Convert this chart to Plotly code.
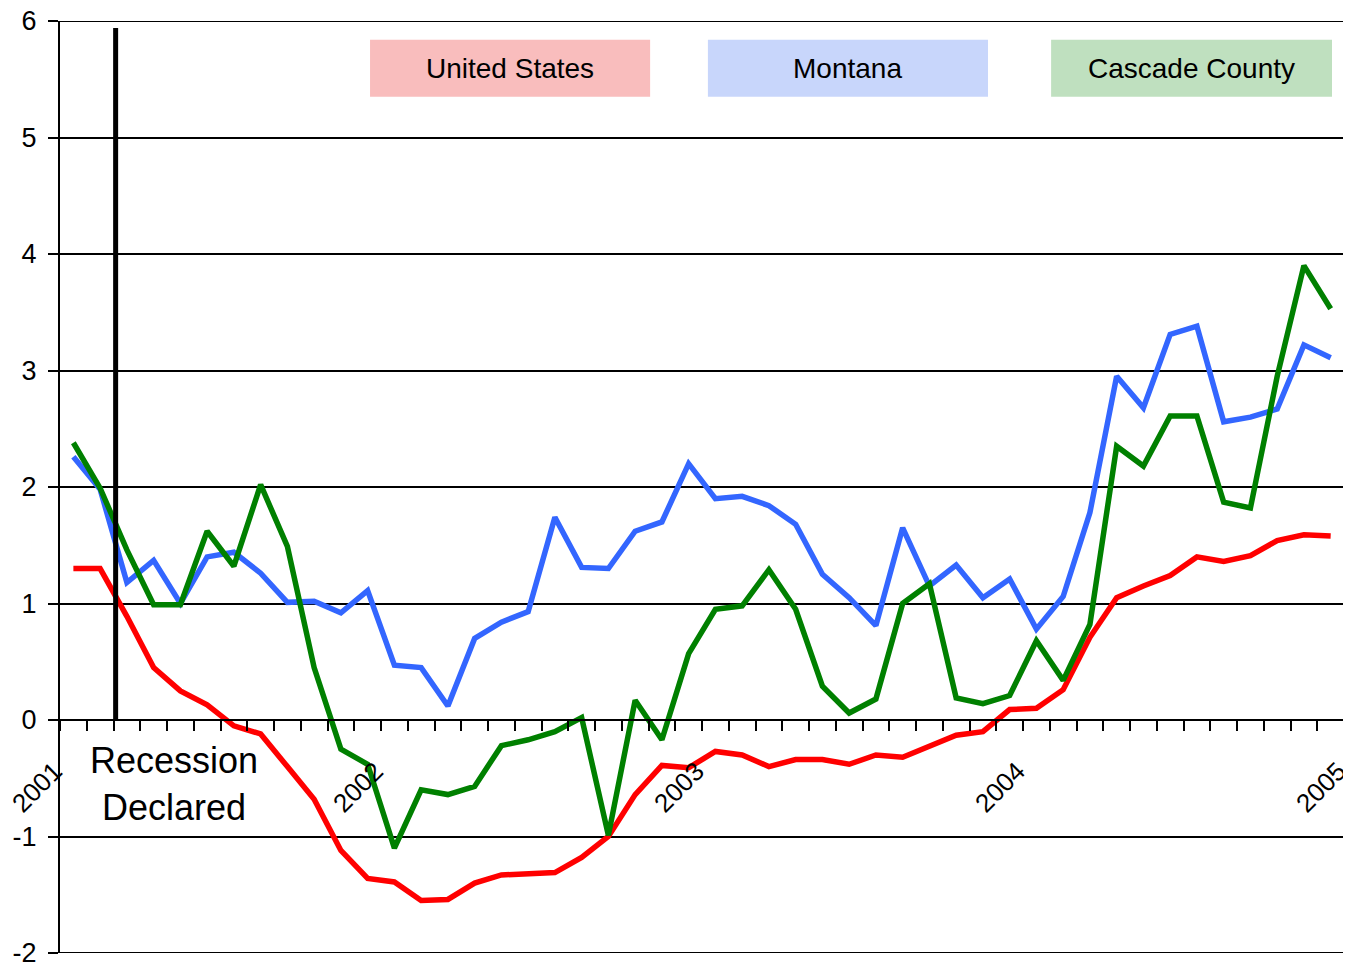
import plotly.graph_objects as go

# Monthly series, Jan 2001 .. Dec 2004 (48 months)
us = [1.30, 1.30, 0.89, 0.45, 0.25, 0.13, -0.05, -0.12, -0.40, -0.68,
      -1.12, -1.36, -1.39, -1.55, -1.54, -1.40, -1.33, -1.32, -1.31, -1.18,
      -1.00, -0.64, -0.39, -0.41, -0.27, -0.30, -0.40, -0.34, -0.34, -0.38,
      -0.30, -0.32, -0.22, -0.13, -0.10, 0.09, 0.10, 0.26, 0.71, 1.05,
      1.15, 1.24, 1.40, 1.36, 1.41, 1.54, 1.59, 1.58]
montana = [2.26, 1.98, 1.18, 1.37, 1.00, 1.40, 1.44, 1.26, 1.01, 1.02,
           0.92, 1.11, 0.47, 0.45, 0.12, 0.70, 0.84, 0.93, 1.74, 1.31,
           1.30, 1.62, 1.70, 2.20, 1.90, 1.92, 1.84, 1.68, 1.25, 1.05,
           0.81, 1.65, 1.15, 1.33, 1.05, 1.21, 0.78, 1.06, 1.78, 2.95,
           2.68, 3.31, 3.38, 2.56, 2.60, 2.67, 3.22, 3.11]
cascade = [2.38, 1.99, 1.46, 0.99, 0.99, 1.62, 1.32, 2.02, 1.49, 0.45,
           -0.25, -0.38, -1.10, -0.60, -0.64, -0.57, -0.22, -0.17, -0.10, 0.02,
           -0.99, 0.17, -0.17, 0.57, 0.95, 0.98, 1.29, 0.95, 0.29, 0.06,
           0.18, 1.00, 1.17, 0.19, 0.14, 0.21, 0.68, 0.34, 0.82, 2.35,
           2.18, 2.61, 2.61, 1.87, 1.82, 2.95, 3.90, 3.53]

series_names = ["United States", "Montana", "Cascade County"]
year_labels = ["2001", "2002", "2003", "2004", "2005"]
year_positions = [0, 12, 24, 36, 48]
y_ticks = [-2, -1, 0, 1, 2, 3, 4, 5, 6]
y_tick_labels = ["-2", "-1", "0", "1", "2", "3", "4", "5", "6"]
recession_month = 2.08
recession_label = "Recession<br>Declared"

FONT = "Liberation Sans, Arial, sans-serif"
colors = ["#FF0000", "#3366FF", "#008000"]
box_fills = ["#F9BDBD", "#C8D6FB", "#BFE0BF"]

months = [i + 0.5 for i in range(len(us))]

fig = go.Figure()
for name, vals, col in zip(series_names, [us, montana, cascade], colors):
    fig.add_trace(go.Scatter(x=months, y=vals, mode="lines", name=name,
                             line=dict(color=col, width=5.5), showlegend=False))

# Border gridlines at the top and bottom of the value range
for yv in (y_ticks[0], y_ticks[-1]):
    fig.add_shape(type="line", xref="paper", x0=0, x1=1, yref="y", y0=yv, y1=yv,
                  line=dict(color="black", width=2), layer="below")

# Recession marker
fig.add_shape(type="line", x0=recession_month, x1=recession_month, y0=0, y1=5.94,
              xref="x", yref="y", line=dict(color="black", width=5))
fig.add_annotation(x=4.27, y=-0.55, xref="x", yref="y", text=recession_label,
                   showarrow=False, font=dict(family=FONT, size=36, color="black"),
                   align="center")

# Legend-like boxes
box_x = [(11.59, 22.06), (24.22, 34.69), (37.05, 47.55)]
for (x0, x1), fill, name in zip(box_x, box_fills, series_names):
    fig.add_shape(type="rect", x0=x0, x1=x1, y0=5.35, y1=5.84, xref="x", yref="y",
                  fillcolor=fill, line=dict(width=0), layer="below")
    fig.add_annotation(x=(x0 + x1) / 2, y=5.595, xref="x", yref="y", text=name,
                       showarrow=False, font=dict(family=FONT, size=28, color="black"))

# Year labels
for pos, lab in zip(year_positions, year_labels):
    fig.add_annotation(x=pos, y=0, xref="x", yref="y", text=lab, showarrow=False,
                       textangle=-45, xanchor="right", yanchor="top",
                       xshift=11, yshift=-33,
                       font=dict(family=FONT, size=26, color="black"))

# page body has an 8px margin: figure is drawn at (8, 8)
fig.update_layout(
    width=1343, height=954,
    margin=dict(l=52, r=0, t=13, b=9, autoexpand=False),
    paper_bgcolor="white", plot_bgcolor="white",
    font=dict(family=FONT, size=27, color="black"),
    xaxis=dict(range=[0, 48.26], anchor="free", position=0.25, automargin=False,
               tickmode="array", tickvals=list(range(0, 49)),
               ticks="outside", ticklen=10, tickwidth=2, tickcolor="black",
               showticklabels=False, showgrid=False, zeroline=False,
               showline=True, linecolor="black", linewidth=2),
    yaxis=dict(range=[-2, 6], tickmode="array", tickvals=y_ticks, automargin=False,
               ticktext=y_tick_labels, ticks="outside", ticklen=10,
               tickwidth=2, tickcolor="black", showgrid=True, gridcolor="black",
               gridwidth=2, zeroline=False, showline=True, linecolor="black",
               linewidth=2, ticklabelstandoff=6, ticklabeloverflow="allow",
               tickfont=dict(family=FONT, size=27, color="black")),
)

fig.write_html("out.html")
